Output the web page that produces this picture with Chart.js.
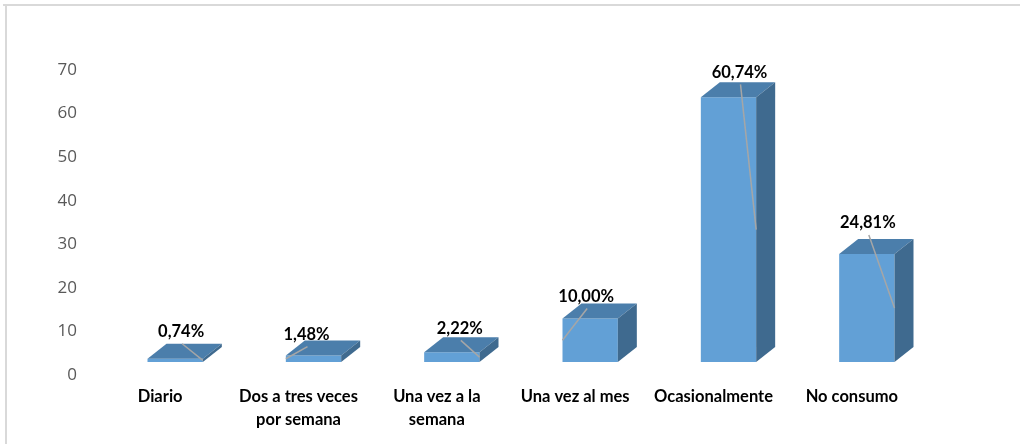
<!DOCTYPE html>
<html>
<head>
<meta charset="utf-8">
<script src="https://cdn.jsdelivr.net/npm/chart.js@4/dist/chart.umd.min.js"></script>
<style>
  html, body { margin: 0; padding: 0; background: #fff; }
  #wrap { width: 1020px; height: 444px; position: relative; }
</style>
</head>
<body>
<div id="wrap"><canvas id="chart" width="1020" height="444"></canvas></div>
<script>
// --- datos ---
const categories = [
  'Diario',
  ['Dos a tres veces', 'por semana'],
  ['Una vez a la', 'semana'],
  'Una vez al mes',
  'Ocasionalmente',
  'No consumo'
];
const values = [0.74, 1.48, 2.22, 10.00, 60.74, 24.81];
const yTicks = [0, 10, 20, 30, 40, 50, 60, 70];

// posicion de las etiquetas de datos (desplazamiento respecto a la barra) y lado de la guia
const labelShift = [[6, -27], [-7, -21], [8, -24], [-4, -22], [11, -25], [1, -31]];
const leaderSide = [1, -1, 1, -1, 1, 1];

const FRONT = '#62a0d6';
const TOP = '#4b7eab';
const SIDE = '#3f6a8f';
const DEPTH_X = 19, DEPTH_Y = -15;

// marco gris arriba e izquierda
const framePlugin = {
  id: 'frame',
  beforeDraw(chart) {
    const ctx = chart.ctx;
    ctx.save();
    ctx.fillStyle = '#d9d9d9';
    ctx.fillRect(3, 4, chart.width - 3, 2);
    ctx.fillRect(5, 4, 2, chart.height - 4);
    ctx.restore();
  }
};

// caras 3D, etiquetas y lineas guia
const bar3dPlugin = {
  id: 'bar3d',
  afterDatasetsDraw(chart) {
    const ctx = chart.ctx;
    const meta = chart.getDatasetMeta(0);
    ctx.save();
    meta.data.forEach((bar, i) => {
      const half = bar.width / 2;
      const l = bar.x - half, r = bar.x + half;
      const t = bar.y, b = bar.base;
      // cara superior
      ctx.fillStyle = TOP;
      ctx.beginPath();
      ctx.moveTo(l, t);
      ctx.lineTo(l + DEPTH_X, t + DEPTH_Y);
      ctx.lineTo(r + DEPTH_X, t + DEPTH_Y);
      ctx.lineTo(r, t);
      ctx.closePath();
      ctx.fill();
      // cara lateral
      ctx.fillStyle = SIDE;
      ctx.beginPath();
      ctx.moveTo(r, t);
      ctx.lineTo(r + DEPTH_X, t + DEPTH_Y);
      ctx.lineTo(r + DEPTH_X, b + DEPTH_Y);
      ctx.lineTo(r, b);
      ctx.closePath();
      ctx.fill();
    });
    meta.data.forEach((bar, i) => {
      const half = bar.width / 2;
      const lx = bar.x + labelShift[i][0];
      const ly = bar.y + labelShift[i][1];
      // guia
      const ex = bar.x + leaderSide[i] * half;
      const ey = Math.min((bar.y + bar.base) / 2, bar.base - 1);
      ctx.strokeStyle = '#a6a6a6';
      ctx.lineWidth = 1.5;
      ctx.beginPath();
      ctx.moveTo(lx + 1, ly + 12);
      ctx.lineTo(ex, ey);
      ctx.stroke();
      // etiqueta
      ctx.fillStyle = '#000';
      ctx.font = 'bold 16.5px Lato, "Open Sans", sans-serif';
      ctx.textAlign = 'center';
      ctx.textBaseline = 'middle';
      ctx.fillText(values[i].toFixed(2).replace('.', ',') + '%', lx, ly);
    });
    ctx.restore();
  }
};

new Chart(document.getElementById('chart'), {
  type: 'bar',
  data: {
    labels: categories,
    datasets: [{
      data: values,
      backgroundColor: FRONT,
      borderWidth: 0,
      categoryPercentage: 1,
      barPercentage: 0.4
    }]
  },
  options: {
    responsive: false,
    animation: false,
    layout: { padding: { left: 0, right: 84, top: 57, bottom: 0 } },
    plugins: { legend: { display: false }, tooltip: { enabled: false } },
    scales: {
      x: {
        grid: { display: false, drawTicks: false },
        border: { display: false },
        ticks: {
          color: '#000',
          font: { family: 'Lato, "Open Sans", sans-serif', size: 16.5, weight: 'bold', lineHeight: 1.4 },
          padding: 23,
          labelOffset: -15,
          maxRotation: 0,
          autoSkip: false
        },
        afterFit(scale) { scale.height = 82; }
      },
      y: {
        min: 0,
        max: 70,
        afterBuildTicks(scale) { scale.ticks = yTicks.map(v => ({ value: v })); },
        grid: { display: false, drawTicks: false },
        border: { display: false },
        ticks: {
          color: '#595959',
          font: { family: '"Open Sans", Lato, sans-serif', size: 17 },
          padding: 29,
          labelOffset: 13
        },
        afterFit(scale) { scale.width = 106; }
      }
    }
  },
  plugins: [framePlugin, bar3dPlugin]
});
</script>
</body>
</html>
